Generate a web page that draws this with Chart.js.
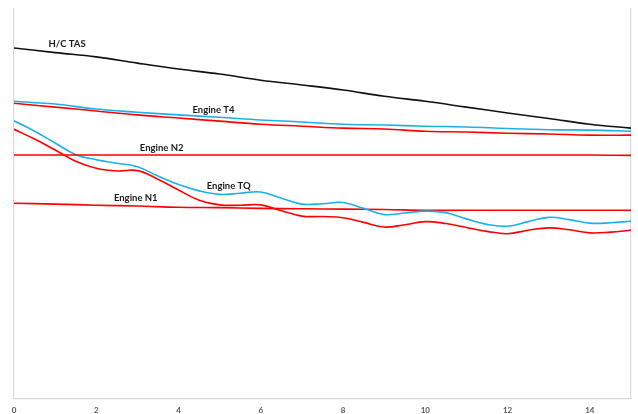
<!DOCTYPE html>
<html>
<head>
<meta charset="utf-8">
<script src="https://cdn.jsdelivr.net/npm/chart.js@4"></script>
<style>
  html, body { margin: 0; padding: 0; background: #ffffff; }
  #wrap { width: 638px; height: 414px; }
</style>
</head>
<body>
<div id="wrap"><canvas id="c" width="638" height="414"></canvas></div>
<script>
// Time axis (minutes) for the slowly varying parameters
const timeWhole = [0, 1, 2, 3, 4, 5, 6, 7, 8, 9, 10, 11, 12, 13, 14, 15];
// Finer time steps for the torque traces
const timeHalf = [0, 0.5, 1, 1.5, 2, 2.5, 3, 3.5, 4, 4.5, 5, 5.5, 6, 6.5, 7, 7.5,
                  8, 8.5, 9, 9.5, 10, 10.5, 11, 11.5, 12, 12.5, 13, 13.5, 14, 14.5, 15];

// Normalised parameter values (% of scale)
const tasValues = [90.0, 88.8, 87.7, 86.1, 84.6, 83.3, 81.7, 80.5, 79.2, 77.6, 76.3, 74.8, 73.3, 71.9, 70.4, 69.4];
const t4Blue = [76.3, 75.6, 74.3, 73.5, 72.8, 72.2, 71.5, 71.0, 70.4, 70.2, 69.9, 69.7, 69.3, 69.0, 68.9, 68.6];
const t4Red  = [75.8, 74.8, 73.8, 72.8, 72.0, 71.2, 70.4, 69.9, 69.4, 69.2, 68.6, 68.4, 68.1, 67.9, 67.6, 67.6];
const n2Red  = [62.5, 62.5, 62.5, 62.5, 62.5, 62.5, 62.5, 62.5, 62.5, 62.5, 62.5, 62.5, 62.5, 62.5, 62.5, 62.4];
const n1Red  = [50.1, 49.9, 49.6, 49.4, 49.1, 49.0, 48.8, 48.7, 48.6, 48.5, 48.3, 48.3, 48.3, 48.3, 48.3, 48.3];
const tqBlue = [71.3, 68.6, 65.6, 62.6, 61.3, 60.4, 59.5, 57.1, 54.9, 53.3, 52.4, 52.7, 53.0, 51.4, 49.9, 50.0,
                50.3, 48.8, 47.2, 47.6, 48.1, 47.7, 46.1, 44.7, 44.2, 45.4, 46.5, 45.9, 45.0, 45.1, 45.5];
const tqRed  = [69.1, 66.6, 63.8, 60.9, 59.1, 58.4, 58.5, 56.3, 53.5, 50.9, 49.7, 49.6, 49.7, 48.2, 46.8, 46.7,
                46.4, 45.2, 44.0, 44.6, 45.4, 44.9, 43.9, 42.9, 42.3, 43.2, 43.8, 43.3, 42.5, 42.7, 43.2];

// Curve labels: text, time, value
const labelTexts  = ["H/C TAS", "Engine T4", "Engine N2", "Engine TQ", "Engine N1"];
const labelTimes  = [1.29, 4.85, 3.59, 5.22, 2.96];
const labelValues = [91.0, 74.0, 64.3, 54.5, 51.4];

const xTickStep = 2;

function pairs(xs, ys) {
  return xs.map((x, i) => ({ x: x, y: ys[i] }));
}

const RED = '#ff0000';
const BLUE = '#1cb0ea';
const BLACK = '#111111';
const FRAME = '#d9d9d9';

function series(label, xs, ys, color) {
  return {
    label: label,
    data: pairs(xs, ys),
    borderColor: color,
    backgroundColor: color,
    borderWidth: 1.6,
    pointRadius: 0,
    tension: 0.4,
    fill: false
  };
}

const curveLabels = {
  id: 'curveLabels',
  afterDatasetsDraw(chart) {
    const ctx = chart.ctx;
    const xs = chart.scales.x, ys = chart.scales.y;
    ctx.save();
    ctx.font = 'bold 9.5px Lato, "Liberation Sans", sans-serif';
    ctx.fillStyle = '#1a1a1a';
    ctx.textAlign = 'center';
    ctx.textBaseline = 'middle';
    labelTexts.forEach((t, i) => {
      ctx.fillText(t, xs.getPixelForValue(labelTimes[i]), ys.getPixelForValue(labelValues[i]));
    });
    ctx.restore();
  }
};

new Chart(document.getElementById('c'), {
  type: 'line',
  data: {
    datasets: [
      series('H/C TAS', timeWhole, tasValues, BLACK),
      series('Engine T4', timeWhole, t4Blue, BLUE),
      series('Engine T4', timeWhole, t4Red, RED),
      series('Engine N2', timeWhole, n2Red, RED),
      series('Engine TQ', timeHalf, tqBlue, BLUE),
      series('Engine TQ', timeHalf, tqRed, RED),
      series('Engine N1', timeWhole, n1Red, RED)
    ]
  },
  options: {
    responsive: false,
    animation: false,
    layout: { padding: { left: 14, right: 5, top: 9, bottom: -8 } },
    plugins: {
      legend: { display: false },
      tooltip: { enabled: false }
    },
    scales: {
      x: {
        type: 'linear',
        min: 0,
        max: 15,
        grid: { display: false, drawTicks: false },
        border: { display: true, color: FRAME, width: 1.2 },
        ticks: {
          stepSize: xTickStep,
          color: '#595959',
          padding: 7,
          font: { family: 'Lato, "Liberation Sans", sans-serif', size: 8, weight: 'bold' },
          maxRotation: 0,
          callback: (v) => (v % xTickStep === 0 && v < 15 ? String(v) : '')
        }
      },
      y: {
        min: 0,
        max: 100,
        position: 'left',
        grid: { display: false, drawTicks: false },
        border: { display: true, color: FRAME, width: 1.2 },
        ticks: { display: false }
      },
      y2: {
        min: 0,
        max: 100,
        position: 'right',
        grid: { display: false, drawTicks: false },
        border: { display: true, color: FRAME, width: 1.2 },
        ticks: { display: false }
      }
    }
  },
  plugins: [curveLabels]
});
</script>
</body>
</html>
